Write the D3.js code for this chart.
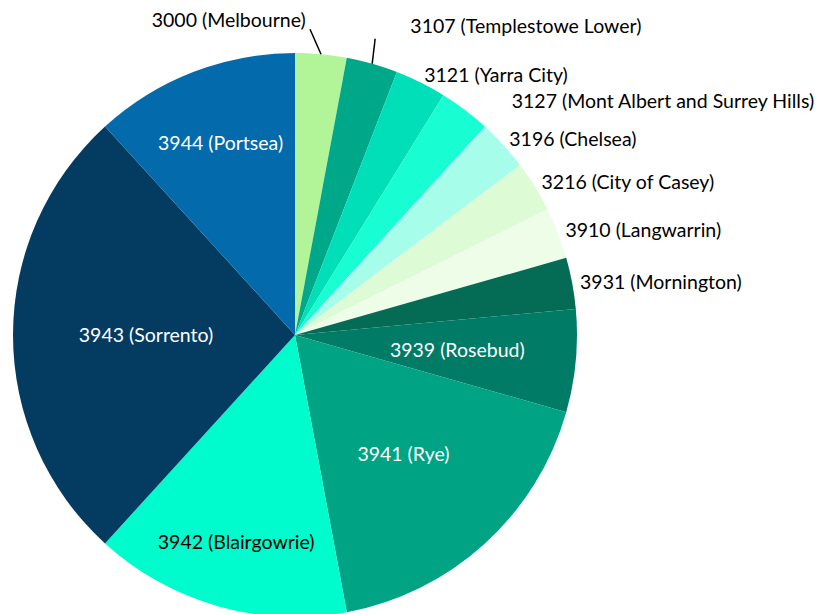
<!DOCTYPE html>
<html>
<head>
<meta charset="utf-8">
<script src="https://cdn.jsdelivr.net/npm/d3@7"></script>
<style>
  body { margin: 0; background: #fff; }
  text { font-family: Lato, "Open Sans", sans-serif; font-size: 19.5px; }
</style>
</head>
<body>
<div id="chart"></div>
<script>
// postcode areas, in the order Excel draws them (clockwise from 12 o'clock)
var areas = [
  "3000 (Melbourne)", "3107 (Templestowe Lower)", "3121 (Yarra City)",
  "3127 (Mont Albert and Surrey Hills)", "3196 (Chelsea)", "3216 (City of Casey)",
  "3910 (Langwarrin)", "3931 (Mornington)", "3939 (Rosebud)", "3941 (Rye)",
  "3942 (Blairgowrie)", "3943 (Sorrento)", "3944 (Portsea)"
];
var counts = [1, 1, 1, 1, 1, 1, 1, 1, 2, 6, 5, 9, 4];
var colours = [
  "#b1f598", "#00a88a", "#00dfb8", "#19fdd3", "#a6fde9", "#ddfbd4",
  "#edfde8", "#046b55", "#007c66", "#00a383", "#00fccc", "#043c61", "#036aab"
];

var w = 820
, h = 614
, cx = 295
, cy = 335
, r = 282;

var svg = d3.select("#chart").append("svg")
  .attr("width", w)
  .attr("height", h);

var g = svg.append("g").attr("transform", "translate(" + cx + "," + cy + ")");

var data = areas.map(function(a, i) { return { name: a, value: counts[i], color: colours[i] }; });

var pie = d3.pie().sort(null).value(function(d) { return d.value; });
var arcs = pie(data);
var arc = d3.arc().innerRadius(0).outerRadius(r);

g.selectAll("path.slice")
  .data(arcs)
  .enter()
  .append("path")
  .attr("class", "slice")
  .attr("d", arc)
  .attr("fill", function(d) { return d.data.color; });

// inside labels: distance from centre picked to match Excel's best-fit spots
var insideR = { "3939 (Rosebud)": 163, "3941 (Rye)": 161, "3942 (Blairgowrie)": 215,
                "3943 (Sorrento)": 149, "3944 (Portsea)": 206 };
var darkText = { "3942 (Blairgowrie)": true };

// outside labels: nudges for the crowded ones near the top
var nudge = { "3000 (Melbourne)": [-16, -26, "end"], "3107 (Templestowe Lower)": [36, -30, "start"],
              "3127 (Mont Albert and Surrey Hills)": [42, -2, "start"] };

function mid(d) { return (d.startAngle + d.endAngle) / 2; }

arcs.forEach(function(d) {
  var a = mid(d), name = d.data.name, x, y, anchor = "middle", fill = "#000";
  if (insideR[name]) {
    x = insideR[name] * Math.sin(a);
    y = -insideR[name] * Math.cos(a);
    fill = darkText[name] ? "#000" : "#fff";
  } else {
    x = (r + 8) * Math.sin(a);
    y = -(r + 8) * Math.cos(a);
    anchor = "start";
    if (nudge[name]) {
      var n = nudge[name];
      // leader line from slice edge to moved label
      var ex = r * Math.sin(a), ey = -r * Math.cos(a);
      x += n[0]; y += n[1]; anchor = n[2];
      if (name.indexOf("3127") !== 0) {
        g.append("line")
          .attr("x1", ex).attr("y1", ey)
          .attr("x2", name.indexOf("3000") === 0 ? ex - 11 : ex + 3)
          .attr("y2", ey - 25)
          .attr("stroke", "#000")
          .attr("stroke-width", 1.5);
      }
    }
  }
  g.append("text")
    .attr("x", x)
    .attr("y", y)
    .attr("dy", "0.35em")
    .attr("text-anchor", anchor)
    .attr("fill", fill)
    .text(name);
});
</script>
</body>
</html>
